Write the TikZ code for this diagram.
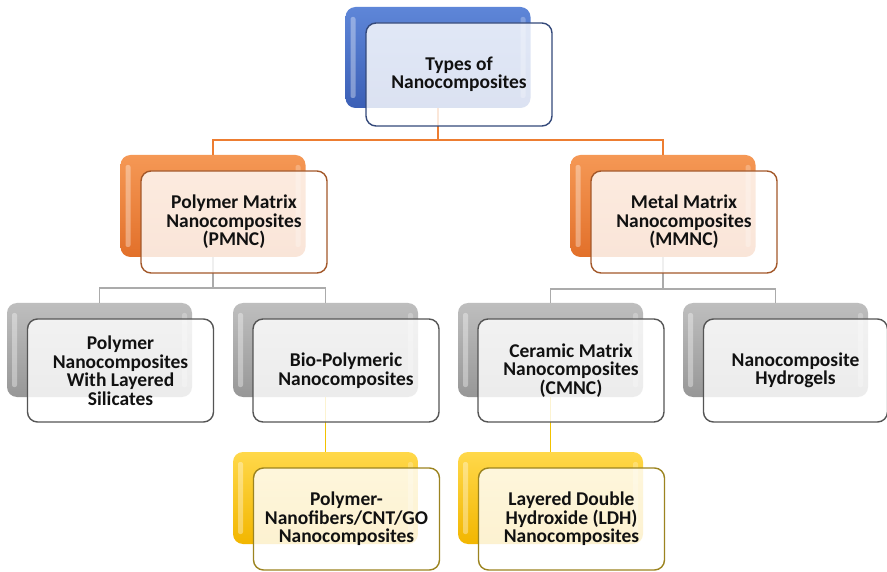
\documentclass[tikz,border=0pt]{standalone}
\usepackage{fontspec}
\setmainfont{Carlito}
\definecolor{bluetop}{HTML}{5E86D8}
\definecolor{bluebot}{HTML}{3B5FB6}
\definecolor{orangetop}{HTML}{F59855}
\definecolor{orangebot}{HTML}{E2702A}
\definecolor{graytop}{HTML}{BEBEBE}
\definecolor{graybot}{HTML}{979797}
\definecolor{yellowtop}{HTML}{FFD84A}
\definecolor{yellowbot}{HTML}{F2B600}
\definecolor{blueedge}{HTML}{34497A}
\definecolor{orangeedge}{HTML}{A3582A}
\definecolor{grayedge}{HTML}{555555}
\definecolor{yellowedge}{HTML}{9C8420}
\definecolor{lineorange}{HTML}{ED7D31}
\definecolor{linegray}{HTML}{ABABAB}
\definecolor{lineyellow}{HTML}{F2C200}
\definecolor{txt}{HTML}{111111}
\begin{document}
\begin{tikzpicture}[x=1pt,y=-1pt,
  backbox/.style={rectangle, rounded corners=10pt, draw=none, inner sep=0pt,
    minimum width=185pt,
    path picture={
      \fill[white,opacity=0.35,rounded corners=2pt]
        ([xshift=5pt,yshift=-10pt]path picture bounding box.north west) rectangle
        ([xshift=10pt,yshift=10pt]path picture bounding box.south west);
      \fill[white,opacity=0.25,rounded corners=2pt]
        ([xshift=-10pt,yshift=-10pt]path picture bounding box.north east) rectangle
        ([xshift=-5pt,yshift=10pt]path picture bounding box.south east);
    }},
  bbB/.style={backbox, top color=bluetop, bottom color=bluebot},
  bbO/.style={backbox, top color=orangetop, bottom color=orangebot},
  bbG/.style={backbox, top color=graytop, bottom color=graybot},
  bbY/.style={backbox, top color=yellowtop, bottom color=yellowbot},
  frontbox/.style={rectangle, rounded corners=10pt, line width=1.4pt, fill=white,
    fill opacity=0.82, text opacity=1, inner sep=0pt, align=center,
    minimum width=186pt, minimum height=103pt, text=txt,
    font=\bfseries\fontsize{19.5}{18.5}\selectfont},
  fbB/.style={frontbox, draw=blueedge},
  fbO/.style={frontbox, draw=orangeedge},
  fbG/.style={frontbox, draw=grayedge},
  fbY/.style={frontbox, draw=yellowedge},
  conO/.style={draw=lineorange, line width=1.4pt},
  conG/.style={draw=linegray, line width=1.4pt},
  conY/.style={draw=lineyellow, line width=1.4pt},
]
\useasboundingbox (0,0) rectangle (887,572);
\fill[white] (0,0) rectangle (887,572);

% back boxes
\node[bbB, minimum height=101pt] (b1) at (438,57.5) {};
\node[bbO, minimum height=102pt] (b2) at (213,206) {};
\node[bbO, minimum height=102pt] (b3) at (663,206) {};
\node[bbG, minimum height=94pt] (b4) at (99.5,350) {};
\node[bbG, minimum height=94pt] (b5) at (325.5,350) {};
\node[bbG, minimum height=94pt] (b6) at (550.5,350) {};
\node[bbG, minimum height=94pt] (b7) at (775.5,350) {};
\node[bbY, minimum height=92pt] (b8) at (325.5,498) {};
\node[bbY, minimum height=92pt] (b9) at (550.5,498) {};

% connectors
\draw[conO] (b1.south) -- ++(0,32) -| (b2.north);
\draw[conO] (b1.south) -- ++(0,32) -| (b3.north);
\draw[conG] (b2.south) -- ++(0,31) -| (b4.north);
\draw[conG] (b2.south) -- ++(0,31) -| (b5.north);
\draw[conG] (b3.south) -- ++(0,32) -| (b6.north);
\draw[conG] (b3.south) -- ++(0,32) -| (b7.north);
\draw[conY] (b5.south) -- (b8.north);
\draw[conY] (b6.south) -- (b9.north);

% front boxes
\node[fbB] (f1) at (459,74.5) {Types of\\Nanocomposites};
\node[fbO, minimum height=102pt] (f2) at (234,222) {Polymer Matrix\\Nanocomposites\\(PMNC)};
\node[fbO, minimum height=102pt] (f3) at (684,222) {Metal Matrix\\Nanocomposites\\(MMNC)};
\node[fbG] (f4) at (120.5,370.5) {Polymer\\Nanocomposites\\With Layered\\Silicates};
\node[fbG] (f5) at (346,370.5) {Bio-Polymeric\\Nanocomposites};
\node[fbG] (f6) at (571,370.5) {Ceramic Matrix\\Nanocomposites\\(CMNC)};
\node[fbG, minimum width=184pt] (f7) at (795.5,370.5) {Nanocomposite\\Hydrogels};
\node[fbY, minimum height=102pt] (f8) at (346.5,519) {Polymer-\\Nanofibers/CNT/GO\\Nanocomposites};
\node[fbY, minimum height=102pt] (f9) at (571.5,519) {Layered Double\\Hydroxide (LDH)\\Nanocomposites};
\end{tikzpicture}
\end{document}
